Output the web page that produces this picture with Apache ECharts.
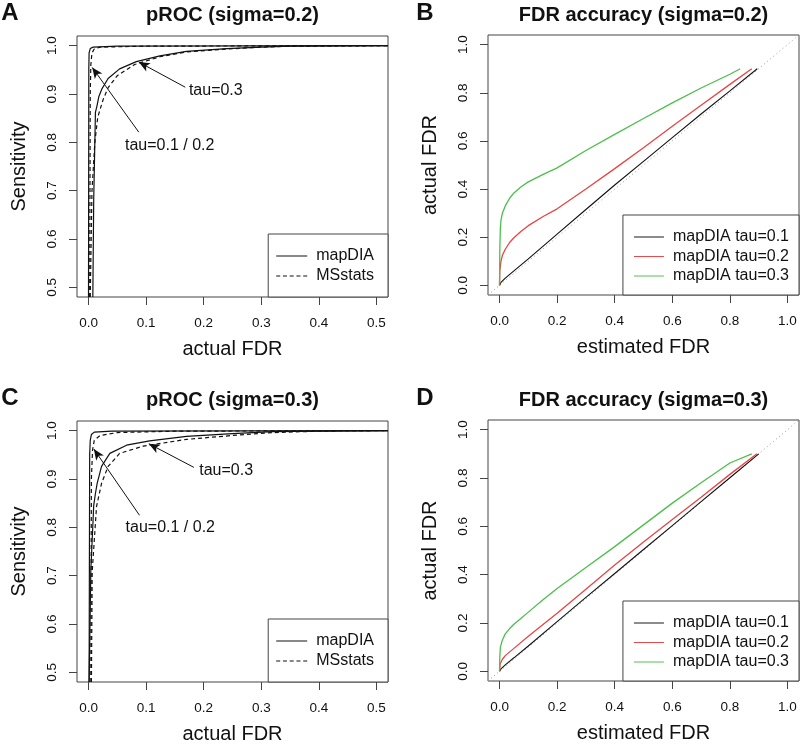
<!DOCTYPE html>
<html>
<head>
<meta charset="utf-8">
<script src="https://cdn.jsdelivr.net/npm/echarts@6/dist/echarts.min.js"></script>
<style>html,body{margin:0;padding:0;background:#fff}#c{width:800px;height:745px}</style>
</head>
<body>
<div id="c"></div>
<script>
// ---- tick labels ----
const xTicksROC = [0, 0.1, 0.2, 0.3, 0.4, 0.5];
const yTicksROC = [0.5, 0.6, 0.7, 0.8, 0.9, 1.0];
const ticksFDR = [0, 0.2, 0.4, 0.6, 0.8, 1.0];

// ---- Panel A: pROC (sigma=0.2) ----
const A_mapDIA_tau12 = [[0.0,0.48],[0.0005,0.95],[0.001,0.985],[0.003,0.994],[0.008,0.997],[0.05,0.999],[0.52,1.0]];
const A_MSstats_tau12 = [[0.002,0.48],[0.003,0.9],[0.004,0.96],[0.006,0.985],[0.01,0.993],[0.02,0.997],[0.1,0.999],[0.52,1.0]];
const A_mapDIA_tau3 = [[0.0075,0.48],[0.009,0.68],[0.012,0.862],[0.015,0.877],[0.018,0.895],[0.023,0.91],[0.034,0.932],[0.054,0.952],[0.083,0.967],[0.124,0.979],[0.17,0.988],[0.24,0.994],[0.3,0.997],[0.35,0.999],[0.52,1.0]];
const A_MSstats_tau3 = [[0.003,0.48],[0.006,0.7],[0.011,0.8],[0.016,0.852],[0.0255,0.889],[0.034,0.913],[0.05,0.938],[0.08,0.961],[0.124,0.977],[0.17,0.987],[0.24,0.993],[0.3,0.997],[0.35,0.999],[0.52,1.0]];
const A_arrows = [[0.168,0.914,0.0873,0.966],[0.0873,0.821,0.0064,0.955]];
const A_labels = [[0.221,0.908,'tau=0.3'],[0.141,0.794,'tau=0.1 / 0.2']];

// ---- Panel B: FDR accuracy (sigma=0.2) ----
const B_tau1 = [[0,0],[0.005,0.012],[0.02,0.03],[0.05,0.06],[0.1,0.11],[0.2,0.213],[0.3,0.315],[0.4,0.417],[0.5,0.515],[0.6,0.614],[0.7,0.712],[0.8,0.808],[0.895,0.9]];
const B_tau2 = [[0,0],[0.001,0.06],[0.005,0.1],[0.01,0.125],[0.02,0.15],[0.035,0.178],[0.05,0.198],[0.075,0.225],[0.1,0.248],[0.15,0.285],[0.2,0.318],[0.3,0.4],[0.4,0.485],[0.5,0.572],[0.6,0.661],[0.7,0.748],[0.8,0.835],[0.876,0.9]];
const B_tau3 = [[0,0],[0.001,0.15],[0.003,0.24],[0.005,0.27],[0.01,0.3],[0.02,0.33],[0.035,0.362],[0.05,0.384],[0.075,0.41],[0.1,0.43],[0.15,0.46],[0.2,0.488],[0.3,0.56],[0.4,0.627],[0.5,0.693],[0.6,0.758],[0.7,0.82],[0.8,0.877],[0.836,0.9]];

// ---- Panel C: pROC (sigma=0.3) ----
const C_mapDIA_tau12 = [[0.001,0.48],[0.002,0.95],[0.003,0.98],[0.005,0.992],[0.01,0.997],[0.04,0.999],[0.52,1.0]];
const C_MSstats_tau12 = [[0.004,0.48],[0.005,0.9],[0.007,0.96],[0.01,0.98],[0.02,0.99],[0.05,0.996],[0.15,0.999],[0.52,1.0]];
const C_mapDIA_tau3 = [[0.001,0.48],[0.004,0.71],[0.009,0.845],[0.012,0.87],[0.015,0.891],[0.0226,0.926],[0.037,0.953],[0.066,0.97],[0.106,0.979],[0.17,0.988],[0.25,0.994],[0.32,0.998],[0.4,0.999],[0.52,1.0]];
const C_MSstats_tau3 = [[0.005,0.48],[0.0064,0.708],[0.0139,0.843],[0.0226,0.891],[0.034,0.926],[0.054,0.953],[0.095,0.968],[0.17,0.982],[0.25,0.99],[0.32,0.996],[0.4,0.999],[0.52,1.0]];
const C_arrows = [[0.183,0.924,0.1047,0.973],[0.0885,0.825,0.0092,0.962]];
const C_labels = [[0.239,0.918,'tau=0.3'],[0.142,0.80,'tau=0.1 / 0.2']];

// ---- Panel D: FDR accuracy (sigma=0.3) ----
const D_tau1 = [[0,0],[0.005,0.01],[0.02,0.027],[0.05,0.056],[0.1,0.105],[0.2,0.206],[0.3,0.306],[0.4,0.405],[0.5,0.504],[0.6,0.603],[0.7,0.702],[0.8,0.801],[0.9,0.9]];
const D_tau2 = [[0,0],[0.002,0.03],[0.01,0.05],[0.02,0.065],[0.05,0.095],[0.1,0.145],[0.2,0.24],[0.3,0.34],[0.4,0.44],[0.5,0.535],[0.6,0.628],[0.7,0.72],[0.8,0.815],[0.894,0.9]];
const D_tau3 = [[0,0],[0.001,0.06],[0.003,0.1],[0.01,0.13],[0.02,0.155],[0.035,0.177],[0.05,0.195],[0.075,0.22],[0.1,0.245],[0.15,0.295],[0.2,0.343],[0.3,0.43],[0.4,0.516],[0.5,0.606],[0.6,0.696],[0.7,0.78],[0.8,0.862],[0.876,0.9]];

const diagonal = [[-0.04,-0.04],[1.04,1.04]];

// ---- styling ----
const FF = '"Liberation Sans", Arial, Helvetica, sans-serif';
const TXT = '#111';
const BOX = '#444';
const RED = '#e84444';
const GREEN = '#4cbf4c';
const ICON_SOLID = 'path://M0,0h31v1h-31z';
const ICON_DASH = 'path://M0,0h4v1h-4z M6.75,0h4v1h-4z M13.5,0h4v1h-4z M20.25,0h4v1h-4z M27,0h4v1h-4z';

const chart = echarts.init(document.getElementById('c'), null, {renderer: 'canvas'});

const grids = [
  {left: 77, top: 36, width: 311, height: 261},
  {left: 488, top: 35, width: 311, height: 260},
  {left: 77, top: 421, width: 311, height: 261},
  {left: 488, top: 420, width: 311, height: 261}
].map(g => Object.assign({show: true, borderColor: BOX, borderWidth: 1, backgroundColor: 'transparent', containLabel: false}, g));

function xAx(grid, min, max, ticks, name) {
  return {
    type: 'value', gridIndex: grid, min: min, max: max,
    name: name, nameLocation: 'middle', nameGap: 42,
    nameTextStyle: {fontSize: 20, fontFamily: FF, color: TXT},
    axisLine: {show: false, onZero: false},
    splitLine: {show: false},
    axisTick: {show: true, inside: false, length: 8, customValues: ticks, lineStyle: {color: BOX, width: 1}},
    axisLabel: {show: true, margin: 19, customValues: ticks, formatter: v => v.toFixed(1), fontSize: 13.5, fontFamily: FF, color: TXT}
  };
}
function yAx(grid, min, max, ticks, name) {
  return {
    type: 'value', gridIndex: grid, min: min, max: max,
    name: name, nameLocation: 'middle', nameGap: 48,
    nameTextStyle: {fontSize: 20, fontFamily: FF, color: TXT},
    axisLine: {show: false, onZero: false},
    splitLine: {show: false},
    axisTick: {show: true, inside: false, length: 8, customValues: ticks, lineStyle: {color: BOX, width: 1}},
    axisLabel: {show: true, margin: 18, rotate: 90, customValues: ticks, formatter: v => v.toFixed(1), fontSize: 13.5, fontFamily: FF, color: TXT}
  };
}

function lineS(name, data, idx, color, dashed, width) {
  return {
    type: 'line', name: name, data: data, xAxisIndex: idx, yAxisIndex: idx,
    showSymbol: false, symbol: 'none', smooth: false, animation: false, silent: true,
    lineStyle: {color: color, width: width || 1.2, type: dashed ? [4, 3] : 'solid'},
    itemStyle: {color: color}, z: 3
  };
}

function annot(idx, labels, arrows) {
  return {
    type: 'scatter', xAxisIndex: idx, yAxisIndex: idx, symbolSize: 0, animation: false, silent: true,
    data: labels,
    itemStyle: {opacity: 1, color: TXT},
    label: {show: true, position: 'inside', formatter: p => p.data[2], fontSize: 16, fontFamily: FF, color: TXT, opacity: 1},
    markLine: {
      silent: true, animation: false,
      symbol: ['none', 'arrow'], symbolSize: [7, 11],
      label: {show: false},
      lineStyle: {color: '#111', width: 1, type: 'solid', opacity: 1},
      itemStyle: {color: '#111'},
      data: arrows.map(a => [{coord: [a[0], a[1]]}, {coord: [a[2], a[3]]}])
    },
    z: 4
  };
}

function legendBox(items, right, bottom, padding, gap, iw) {
  return {
    data: items, orient: 'vertical', right: right, bottom: bottom, align: 'left',
    itemWidth: iw, itemHeight: 1.2, itemGap: gap, padding: padding,
    borderColor: BOX, borderWidth: 1, backgroundColor: '#fff', selectedMode: false,
    textStyle: {fontSize: 16, fontFamily: FF, color: TXT, padding: [0, 0, 0, 4], lineHeight: 16}
  };
}

function txt(x, y, text, size, bold) {
  return {type: 'text', x: x, y: y, silent: true,
    style: {text: text, font: (bold ? 'bold ' : '') + size + 'px ' + FF, fill: TXT, align: 'center', verticalAlign: 'middle'}};
}

const rocLegend = [{name: 'mapDIA', icon: ICON_SOLID}, {name: 'MSstats', icon: ICON_DASH}];
const fdrLegend = [{name: 'mapDIA tau=0.1', icon: ICON_SOLID}, {name: 'mapDIA tau=0.2', icon: ICON_SOLID}, {name: 'mapDIA tau=0.3', icon: ICON_SOLID}];

const option = {
  animation: false,
  backgroundColor: '#fff',
  grid: grids,
  xAxis: [
    xAx(0, -0.02, 0.52, xTicksROC, 'actual FDR'),
    xAx(1, -0.04, 1.04, ticksFDR, 'estimated FDR'),
    xAx(2, -0.02, 0.52, xTicksROC, 'actual FDR'),
    xAx(3, -0.04, 1.04, ticksFDR, 'estimated FDR')
  ],
  yAxis: [
    yAx(0, 0.48, 1.02, yTicksROC, 'Sensitivity'),
    yAx(1, -0.04, 1.04, ticksFDR, 'actual FDR'),
    yAx(2, 0.48, 1.02, yTicksROC, 'Sensitivity'),
    yAx(3, -0.04, 1.04, ticksFDR, 'actual FDR')
  ],
  legend: [
    legendBox(rocLegend, 412, 448, [14, 14, 13, 8], 4, 31),
    legendBox(fdrLegend, 1, 450, [14, 10, 11, 11], 3.5, 30),
    legendBox(rocLegend, 412, 63, [14, 14, 13, 8], 4, 31),
    legendBox(fdrLegend, 1, 64, [14, 10, 11, 11], 3.5, 30)
  ],
  series: [
    lineS('mapDIA', A_mapDIA_tau12, 0, '#111', false),
    lineS('MSstats', A_MSstats_tau12, 0, '#111', true),
    lineS('mapDIA', A_mapDIA_tau3, 0, '#111', false),
    lineS('MSstats', A_MSstats_tau3, 0, '#111', true),
    annot(0, A_labels, A_arrows),

    lineS('diag', diagonal, 1, '#999', false, 1),
    lineS('mapDIA tau=0.1', B_tau1, 1, '#111', false, 1.1),
    lineS('mapDIA tau=0.2', B_tau2, 1, RED, false, 1.3),
    lineS('mapDIA tau=0.3', B_tau3, 1, GREEN, false, 1.3),

    lineS('mapDIA', C_mapDIA_tau12, 2, '#111', false),
    lineS('MSstats', C_MSstats_tau12, 2, '#111', true),
    lineS('mapDIA', C_mapDIA_tau3, 2, '#111', false),
    lineS('MSstats', C_MSstats_tau3, 2, '#111', true),
    annot(2, C_labels, C_arrows),

    lineS('diag', diagonal, 3, '#999', false, 1),
    lineS('mapDIA tau=0.1', D_tau1, 3, '#111', false, 1.1),
    lineS('mapDIA tau=0.2', D_tau2, 3, RED, false, 1.3),
    lineS('mapDIA tau=0.3', D_tau3, 3, GREEN, false, 1.3)
  ],
  graphic: [
    txt(10, 13, 'A', 24, true),
    txt(425, 13, 'B', 24, true),
    txt(10, 398, 'C', 24, true),
    txt(425, 398, 'D', 24, true),
    txt(232.5, 15, 'pROC (sigma=0.2)', 20, true),
    txt(643.5, 15, 'FDR accuracy (sigma=0.2)', 20, true),
    txt(232.5, 400, 'pROC (sigma=0.3)', 20, true),
    txt(643.5, 400, 'FDR accuracy (sigma=0.3)', 20, true)
  ]
};
option.series.forEach(s => { if (s.name === 'diag') { s.lineStyle.type = [1, 3]; s.z = 2; } });
chart.setOption(option);
</script>
</body>
</html>
